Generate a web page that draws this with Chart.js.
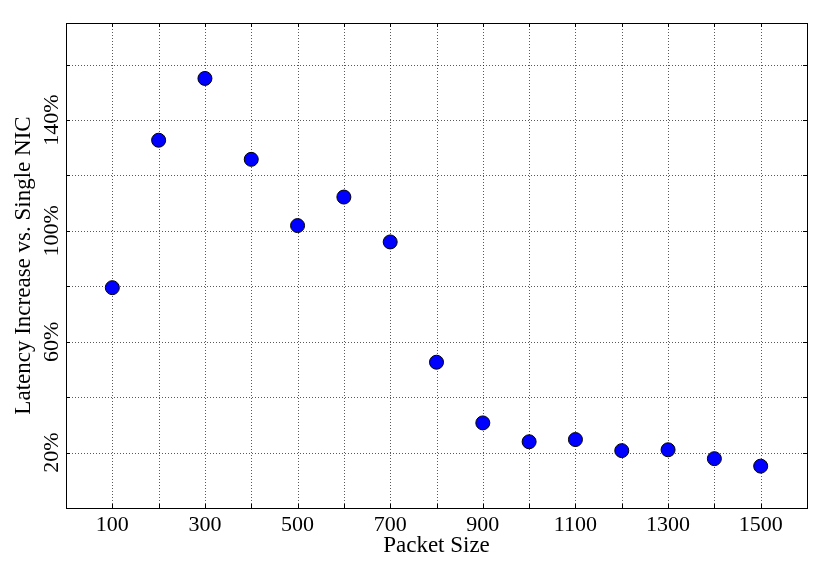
<!DOCTYPE html>
<html>
<head>
<meta charset="utf-8">
<script src="https://cdn.jsdelivr.net/npm/chart.js@4"></script>
<style>
  html, body { margin: 0; padding: 0; background: #fff; }
  #wrap { width: 830px; height: 575px; }
</style>
</head>
<body>
<div id="wrap"><canvas id="latency-chart" width="830" height="575"></canvas></div>
<script>
const packetSizes = [100, 200, 300, 400, 500, 600, 700, 800, 900, 1000, 1100, 1200, 1300, 1400, 1500];
const latencyIncrease = [79.5, 132.7, 155.0, 125.8, 101.9, 112.2, 96.0, 52.6, 30.7, 23.9, 24.7, 20.7, 21.0, 17.8, 15.1];
const xTickLabels = [100, 300, 500, 700, 900, 1100, 1300, 1500];
const yTickLabels = [20, 60, 100, 140];

const FONT = "'Liberation Serif', 'Times New Roman', serif";

// dotted grid behind the points (v4 grid has no dash option)
const gridPlugin = {
    id: 'dottedGrid',
    beforeDatasetsDraw(chart) {
        const c = chart.ctx;
        const a = chart.chartArea;
        const xs = chart.scales.x;
        const ys = chart.scales.y;
        c.save();
        c.strokeStyle = 'rgba(0,0,0,0.65)';
        c.lineWidth = 1;
        c.setLineDash([1, 2]);
        c.beginPath();
        for (let v = 100; v < 1600; v += 100) {
            const px = Math.round(xs.getPixelForValue(v)) + 0.5;
            c.moveTo(px, a.top); c.lineTo(px, a.bottom);
        }
        for (let v = 20; v <= 160; v += 20) {
            const py = Math.round(ys.getPixelForValue(v)) + 0.5;
            c.moveTo(a.left, py); c.lineTo(a.right, py);
        }
        c.stroke();
        c.restore();
    }
};

// frame, inward ticks on all sides, rotated y labels (matplotlib look)
const framePlugin = {
    id: 'frame',
    afterDraw(chart) {
        const c = chart.ctx;
        const a = chart.chartArea;
        const xs = chart.scales.x;
        const ys = chart.scales.y;
        c.save();
        c.strokeStyle = '#000';
        c.lineWidth = 1;
        c.beginPath();
        for (let v = 0; v <= 1600; v += 100) {
            const px = Math.round(xs.getPixelForValue(v)) + 0.5;
            c.moveTo(px, a.bottom); c.lineTo(px, a.bottom - 4);
            c.moveTo(px, a.top); c.lineTo(px, a.top + 4);
        }
        for (let v = 0; v <= 160; v += 20) {
            const py = Math.round(ys.getPixelForValue(v)) + 0.5;
            c.moveTo(a.left, py); c.lineTo(a.left + 4, py);
            c.moveTo(a.right, py); c.lineTo(a.right - 4, py);
        }
        c.stroke();
        c.strokeRect(Math.round(a.left) + 0.5, Math.round(a.top) + 0.5,
            Math.round(a.right - a.left), Math.round(a.bottom - a.top));
        // y tick labels, rotated
        c.fillStyle = '#000';
        c.font = '22px ' + FONT;
        c.textAlign = 'center';
        c.textBaseline = 'middle';
        yTickLabels.forEach(v => {
            c.save();
            c.translate(a.left - 14, ys.getPixelForValue(v));
            c.rotate(-Math.PI / 2);
            c.fillText(v + '%', 0, 0);
            c.restore();
        });
        c.restore();
    }
};

new Chart(document.getElementById('latency-chart').getContext('2d'), {
    type: 'scatter',
    data: {
        datasets: [{
            data: packetSizes.map((s, i) => ({x: s, y: latencyIncrease[i]})),
            backgroundColor: '#0000ff',
            borderColor: '#000',
            borderWidth: 1,
            pointRadius: 7,
            pointHoverRadius: 7
        }]
    },
    options: {
        responsive: false,
        animation: false,
        layout: { padding: { top: 23, right: 23, left: 0, bottom: 0 } },
        plugins: { legend: { display: false }, tooltip: { enabled: false } },
        scales: {
            x: {
                type: 'linear',
                min: 0,
                max: 1600,
                afterFit: s => { s.height = 67; },
                border: { display: false },
                grid: { drawOnChartArea: false, drawTicks: false },
                ticks: {
                    stepSize: 100,
                    autoSkip: false,
                    maxRotation: 0,
                    padding: 4,
                    color: '#000',
                    font: { family: FONT, size: 22 },
                    callback: v => xTickLabels.includes(v) ? String(v) : ''
                },
                title: {
                    display: true,
                    text: 'Packet Size',
                    color: '#000',
                    font: { family: FONT, size: 23 },
                    padding: { top: 0, bottom: 15 }
                }
            },
            y: {
                min: 0,
                max: 175,
                afterFit: s => { s.width = 66; },
                border: { display: false },
                grid: { drawOnChartArea: false, drawTicks: false },
                ticks: { stepSize: 20, display: false },
                title: {
                    display: true,
                    text: 'Latency Increase vs. Single NIC',
                    color: '#000',
                    font: { family: FONT, size: 23 },
                    padding: { top: 10, bottom: 0 }
                }
            }
        }
    },
    plugins: [gridPlugin, framePlugin]
});
</script>
</body>
</html>
